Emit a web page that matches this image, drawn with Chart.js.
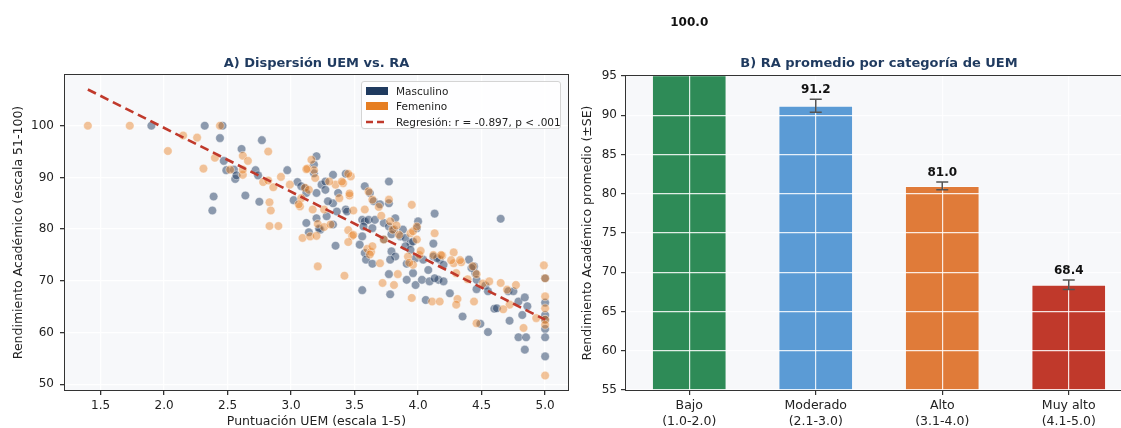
<!DOCTYPE html>
<html>
<head>
<meta charset="utf-8">
<script src="https://cdn.jsdelivr.net/npm/chart.js@4/dist/chart.umd.min.js"></script>
<style>
  body { margin: 0; background: #fff; font-family: "DejaVu Sans", sans-serif; }
  #wrap { position: relative; width: 1121px; height: 428px; overflow: hidden; background: #fff; }
  .panel { position: absolute; top: 0; height: 428px; }
  #legendA {
    position: absolute; left: 361px; top: 81px; width: 200px; height: 48px;
    border: 1px solid #d4d4d4; border-radius: 3px; background: rgba(255,255,255,0.85);
    font-size: 10.5px; color: #222; box-sizing: border-box; padding: 1px 0 0 4px;
  }
  #legendA .row { display: flex; align-items: center; height: 15.5px; white-space: nowrap; }
  #legendA .sw { width: 22px; height: 8px; margin-right: 8px; flex: none; }
</style>
</head>
<body>
<div id="wrap">
  <div class="panel" style="left:0;width:575px;"><canvas id="chartA"></canvas></div>
  <div id="legendA">
    <div class="row"><span class="sw" style="background:#1f3a5f"></span>Masculino</div>
    <div class="row"><span class="sw" style="background:#e67e22"></span>Femenino</div>
    <div class="row"><svg class="sw" width="22" height="8"><line x1="0" y1="4" x2="22" y2="4" stroke="#c0392b" stroke-width="2.5" stroke-dasharray="7,4"/></svg>Regresión: r = -0.897, p &lt; .001</div>
  </div>
  <div class="panel" style="left:575px;width:560px;"><canvas id="chartB"></canvas></div>
</div>
<script>
// ---- data: panel A (scatter) ----
const xTicksA = [1.5, 2.0, 2.5, 3.0, 3.5, 4.0, 4.5, 5.0];
const yTicksA = [50, 60, 70, 80, 90, 100];

const mascX = [1.90, 2.32, 2.46, 2.44, 2.77, 2.61, 2.47, 2.49, 2.55, 2.56, 2.57, 2.72, 2.74, 2.97, 3.05, 3.11, 3.12, 3.02, 2.39, 2.38,
  2.64, 2.75, 3.12, 3.18, 3.20, 3.18, 3.24, 3.27, 3.33, 3.43, 3.08, 3.20, 3.27, 3.33, 3.37, 3.43, 3.36, 3.29, 3.20, 3.23,
  3.28, 3.33, 3.44, 3.14, 3.22, 3.35, 3.58, 3.62, 3.65, 3.77, 3.70, 3.77, 3.56, 3.58, 3.61, 3.57, 3.64, 3.66, 3.73, 3.77,
  3.82, 3.81, 3.88, 3.86, 4.00, 3.99, 4.13, 4.65, 3.90, 3.94, 4.12, 4.12, 4.17, 4.20, 3.58, 3.59, 3.79, 3.82, 3.78, 3.90,
  3.94, 3.98, 3.96, 3.54, 3.56, 3.64, 3.56, 3.73, 3.79, 3.77, 3.78, 3.91, 3.98, 4.03, 4.09, 4.16, 4.20, 3.91, 3.96, 4.06,
  4.04, 4.08, 4.15, 4.13, 4.25, 4.35, 4.40, 4.44, 4.45, 4.42, 4.46, 4.53, 4.55, 4.46, 4.49, 4.55, 4.60, 4.71, 4.75, 4.62,
  4.79, 4.84, 4.86, 4.82, 4.72, 4.79, 4.85, 4.84, 5.00, 5.00, 5.00, 5.00, 5.00, 5.00, 5.00];
const mascY = [100, 100, 100, 97.6, 97.2, 95.5, 93.2, 91.4, 91.5, 89.7, 90.4, 91.4, 90.4, 91.4, 89.1, 87.9, 87.0, 85.6, 86.3, 83.6,
  86.5, 85.3, 81.2, 92.5, 94.1, 90.8, 88.6, 89.2, 90.5, 90.7, 88.3, 87.0, 87.6, 85.0, 87.0, 83.8, 83.4, 85.4, 82.1, 79.9,
  82.5, 80.9, 83.4, 79.4, 80.1, 76.8, 88.3, 87.0, 85.4, 89.2, 84.8, 85.0, 81.8, 81.5, 81.8, 80.5, 80.2, 81.8, 81.2, 80.5,
  82.1, 79.9, 79.9, 78.6, 81.5, 80.2, 83.0, 82.0, 78.3, 77.3, 77.2, 74.7, 74.1, 73.1, 75.4, 74.1, 75.7, 74.7, 74.1, 76.7,
  76.0, 74.4, 77.6, 77.0, 78.6, 73.3, 68.2, 78.0, 79.0, 71.3, 67.4, 70.2, 69.2, 70.2, 69.9, 70.2, 69.9, 73.3, 71.5, 66.3,
  74.1, 72.1, 74.4, 70.5, 67.6, 63.1, 74.1, 72.8, 71.5, 72.5, 70.2, 69.1, 68.0, 68.4, 61.7, 60.1, 64.6, 68.0, 68.0, 64.7,
  66.0, 66.8, 65.1, 63.4, 62.3, 59.1, 59.1, 56.7, 70.5, 65.8, 63.4, 62.5, 60.7, 59.1, 55.4];

const femX = [1.40, 1.73, 2.44, 2.03, 2.15, 2.26, 2.40, 2.62, 2.66, 2.82, 2.31, 2.52, 2.62, 2.62, 2.78, 2.86, 2.82, 2.92, 2.99, 3.11,
  3.08, 3.07, 2.83, 2.84, 2.83, 2.90, 3.09, 3.15, 3.20, 3.21, 3.16, 3.18, 3.19, 3.13, 3.35, 3.41, 3.46, 3.47, 3.30, 3.40,
  3.14, 3.06, 3.17, 3.26, 3.38, 3.46, 3.49, 3.58, 3.21, 3.26, 3.31, 3.45, 3.48, 3.45, 3.42, 3.49, 3.60, 3.63, 3.61, 3.64,
  3.77, 3.78, 3.80, 3.85, 3.95, 3.94, 3.99, 3.92, 3.96, 3.70, 3.64, 3.73, 3.62, 3.69, 3.71, 3.83, 3.72, 3.81, 3.84, 3.95,
  3.93, 4.01, 4.11, 4.13, 4.19, 4.28, 4.28, 4.34, 4.30, 4.31, 4.30, 4.43, 4.46, 4.51, 4.39, 4.44, 4.46, 4.56, 4.65, 4.70,
  4.77, 4.72, 4.83, 4.93, 4.67, 4.99, 4.02, 4.12, 4.18, 4.26, 4.33, 3.96, 3.99, 4.17, 5.00, 5.00, 5.00, 5.00, 5.00, 5.00,
  3.12, 3.45];
const femY = [100, 100, 100, 95.1, 98.1, 97.7, 93.8, 94.2, 93.2, 95.0, 91.7, 91.5, 90.5, 91.5, 89.1, 88.1, 89.4, 90.1, 88.6, 88.0,
  86.0, 84.4, 85.2, 83.6, 80.6, 80.6, 78.3, 78.6, 78.7, 72.8, 93.4, 91.4, 89.9, 91.7, 88.6, 88.9, 86.5, 90.2, 89.2, 89.2,
  87.6, 84.8, 83.8, 83.8, 86.0, 86.9, 83.6, 83.8, 81.0, 80.4, 80.9, 79.8, 78.7, 77.5, 71.0, 78.9, 76.2, 75.6, 87.3, 85.7,
  85.7, 81.5, 79.9, 78.9, 84.7, 79.2, 78.0, 74.7, 73.1, 73.4, 76.7, 78.0, 75.1, 84.3, 82.6, 80.7, 69.6, 69.2, 71.3, 66.7,
  73.5, 75.0, 66.0, 79.2, 74.9, 75.5, 73.4, 73.6, 71.5, 66.5, 65.4, 72.8, 71.3, 69.5, 70.3, 66.0, 61.8, 69.9, 69.6, 68.3,
  69.2, 65.4, 60.9, 62.8, 64.5, 73.0, 75.8, 75.0, 75.0, 74.0, 74.0, 79.6, 80.5, 66.0, 70.5, 67.0, 64.7, 62.5, 61.5, 51.7,
  91.6, 90.7];

const regX = [1.40, 5.00];
const regY = [107.0, 62.5];

// ---- data: panel B (bars) ----
const categories = [['Bajo', '(1.0-2.0)'], ['Moderado', '(2.1-3.0)'], ['Alto', '(3.1-4.0)'], ['Muy alto', '(4.1-5.0)']];
const meanRA = [100.0, 91.2, 81.0, 68.4];
const seRA = [0.6, 0.83, 0.5, 0.6];
const yTicksB = [55, 60, 65, 70, 75, 80, 85, 90, 95];
const barColors = ['#2e8b57', '#5b9bd5', '#e07b39', '#c0392b'];

const FONT = 'DejaVu Sans';
const toPts = (xs, ys) => xs.map((x, i) => ({ x: x, y: ys[i] }));

// plot background + frame (matplotlib style spines)
const plotBg = {
    id: 'plotBg',
    beforeDraw(chart) {
        const { ctx, chartArea: a } = chart;
        ctx.save();
        ctx.fillStyle = '#f7f8fa';
        ctx.fillRect(a.left, a.top, a.width, a.height);
        ctx.restore();
    }
};
const frame = {
    id: 'frame',
    afterDraw(chart) {
        const { ctx, chartArea: a } = chart;
        ctx.save();
        ctx.strokeStyle = '#333';
        ctx.lineWidth = 1;
        ctx.strokeRect(Math.round(a.left) - 0.5, Math.round(a.top) - 0.5, Math.round(a.width) + 1, Math.round(a.height) + 1);
        ctx.restore();
    }
};

function tickFont() { return { family: FONT, size: 12 }; }

// Panel A
new Chart(document.getElementById('chartA'), {
    type: 'scatter',
    data: {
        datasets: [
            {
                label: 'Regresión',
                type: 'line',
                data: toPts(regX, regY),
                borderColor: '#c0392b',
                borderWidth: 2.6,
                borderDash: [9, 5],
                pointRadius: 0,
                fill: false,
                order: 0
            },
            {
                label: 'Femenino',
                data: toPts(femX, femY),
                backgroundColor: 'rgba(230,126,34,0.45)',
                borderColor: 'rgba(255,255,255,0.7)',
                borderWidth: 0.6,
                pointRadius: 4.3,
                order: 1
            },
            {
                label: 'Masculino',
                data: toPts(mascX, mascY),
                backgroundColor: 'rgba(31,58,95,0.5)',
                borderColor: 'rgba(255,255,255,0.7)',
                borderWidth: 0.6,
                pointRadius: 4.3,
                order: 2
            }
        ]
    },
    options: {
        responsive: true,
        maintainAspectRatio: false,
        animation: false,
        layout: { padding: { left: 0, right: 7, top: 0, bottom: 0 } },
        plugins: {
            legend: { display: false },
            tooltip: { enabled: false },
            title: {
                display: true,
                fullSize: false,
                text: 'A) Dispersión UEM vs. RA',
                color: '#1f3a5f',
                font: { family: FONT, size: 13, weight: 'bold' },
                padding: { top: 56, bottom: 3.4 }
            }
        },
        scales: {
            x: {
                type: 'linear',
                min: 1.22,
                max: 5.18,
                afterBuildTicks: s => { s.ticks = xTicksA.map(v => ({ value: v })); },
                afterFit: s => { s.height = 38; },
                ticks: { color: '#222', font: tickFont(), padding: 4, callback: v => v.toFixed(1) },
                grid: { color: '#ffffff', lineWidth: 1.3, tickColor: '#333', tickLength: 5 },
                border: { display: false },
                title: { display: true, text: 'Puntuación UEM (escala 1-5)', color: '#222', font: { family: FONT, size: 12.5 }, padding: { top: 0, bottom: -1.5 } }
            },
            y: {
                min: 48.9,
                max: 109.8,
                afterBuildTicks: s => { s.ticks = yTicksA.map(v => ({ value: v })); },
                afterFit: s => { s.width = 65; },
                ticks: { color: '#222', font: tickFont(), padding: 6 },
                grid: { color: '#ffffff', lineWidth: 1.3, tickColor: '#333', tickLength: 5 },
                border: { display: false },
                title: { display: true, text: 'Rendimiento Académico (escala 51-100)', color: '#222', font: { family: FONT, size: 12.5 }, padding: { top: 11, bottom: 0 } }
            }
        }
    },
    plugins: [plotBg, frame]
});

// error bars + value labels, drawn over the grid
const barExtras = {
    id: 'barExtras',
    afterDraw(chart) {
        const { ctx, chartArea: a } = chart;
        const yS = chart.scales.y;
        const meta = chart.getDatasetMeta(0);
        ctx.save();
        ctx.beginPath();
        ctx.rect(a.left, a.top, a.width, a.height);
        ctx.clip();
        ctx.strokeStyle = '#555';
        ctx.lineWidth = 1.5;
        meta.data.forEach((bar, i) => {
            const top = yS.getPixelForValue(meanRA[i] + seRA[i]);
            const bot = yS.getPixelForValue(meanRA[i] - seRA[i]);
            ctx.beginPath();
            ctx.moveTo(bar.x, top); ctx.lineTo(bar.x, bot);
            ctx.moveTo(bar.x - 6, top); ctx.lineTo(bar.x + 6, top);
            ctx.moveTo(bar.x - 6, bot); ctx.lineTo(bar.x + 6, bot);
            ctx.stroke();
        });
        ctx.restore();
        ctx.save();
        ctx.fillStyle = '#111';
        ctx.font = 'bold 12px "DejaVu Sans"';
        ctx.textAlign = 'center';
        ctx.textBaseline = 'middle';
        meta.data.forEach((bar, i) => {
            const top = yS.getPixelForValue(meanRA[i] + seRA[i]);
            ctx.fillText(meanRA[i].toFixed(1), bar.x, top - 9.5);
        });
        ctx.restore();
    }
};

// Panel B
new Chart(document.getElementById('chartB'), {
    type: 'bar',
    data: {
        labels: categories,
        datasets: [{
            data: meanRA,
            backgroundColor: barColors,
            borderColor: 'rgba(255,255,255,0.5)',
            borderWidth: 1,
            barPercentage: 0.59,
            categoryPercentage: 1.0
        }]
    },
    options: {
        responsive: true,
        maintainAspectRatio: false,
        animation: false,
        layout: { padding: { left: 0, right: 3, top: 0, bottom: 0 } },
        plugins: {
            legend: { display: false },
            tooltip: { enabled: false },
            title: {
                display: true,
                fullSize: false,
                text: 'B) RA promedio por categoría de UEM',
                color: '#1f3a5f',
                font: { family: FONT, size: 13, weight: 'bold' },
                padding: { top: 56, bottom: 4.4 }
            }
        },
        scales: {
            x: {
                afterFit: s => { s.height = 38; },
                ticks: { color: '#222', font: { family: FONT, size: 12.5, lineHeight: 1.25 }, padding: 3 },
                grid: { z: 1, offset: false, color: 'rgba(255,255,255,0.85)', lineWidth: 1.2, tickColor: '#333', tickLength: 5 },
                border: { display: false }
            },
            y: {
                min: 55,
                max: 95,
                afterBuildTicks: s => { s.ticks = yTicksB.map(v => ({ value: v })); },
                afterFit: s => { s.width = 51; },
                ticks: { color: '#222', font: tickFont(), padding: 4 },
                grid: { z: 1, color: 'rgba(255,255,255,0.85)', lineWidth: 1.2, tickColor: '#333', tickLength: 5 },
                border: { display: false },
                title: { display: true, text: 'Rendimiento Académico promedio (±SE)', color: '#222', font: { family: FONT, size: 12.5 }, padding: { top: 5.5, bottom: 0 } }
            }
        }
    },
    plugins: [plotBg, barExtras, frame]
});
</script>
</body>
</html>
